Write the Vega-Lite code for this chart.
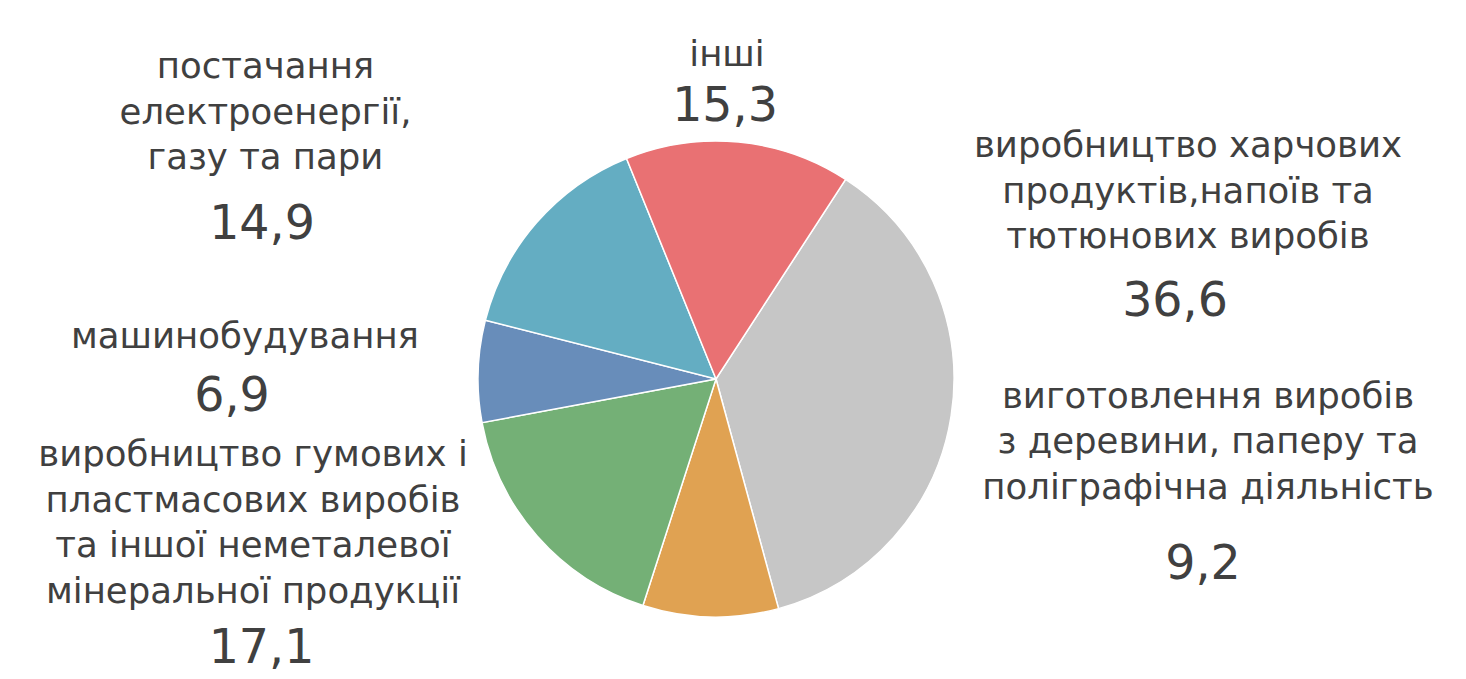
{
  "$schema": "https://vega.github.io/schema/vega-lite/v6.json",
  "width": 1466,
  "height": 679,
  "autosize": {"type": "fit", "contains": "padding"},
  "padding": {"left": 0, "right": 34, "top": 77, "bottom": 0},
  "background": "white",
  "config": {
    "view": {"stroke": null},
    "locale": {"number": {"decimal": ",", "thousands": " ", "grouping": [3], "currency": ["", ""]}}
  },
  "data": {
    "values": [
      {"k": 0, "sector": "виробництво харчових\nпродуктів,напоїв та\nтютюнових виробів", "value": 36.6},
      {"k": 1, "sector": "виготовлення виробів\nз деревини, паперу та\nполіграфічна діяльність", "value": 9.2},
      {"k": 2, "sector": "виробництво гумових і\nпластмасових виробів\nта іншої неметалевої\nмінеральної продукції", "value": 17.1},
      {"k": 3, "sector": "машинобудування", "value": 6.9},
      {"k": 4, "sector": "постачання\nелектроенергії,\nгазу та пари", "value": 14.9},
      {"k": 5, "sector": "інші", "value": 15.3}
    ]
  },
  "layer": [
    {
      "mark": {"type": "arc", "outerRadius": 238, "stroke": "white", "strokeWidth": 1.5},
      "encoding": {
        "theta": {"field": "value", "type": "quantitative", "stack": true, "scale": {"range": [0.576, 6.859]}},
        "order": {"field": "k", "type": "quantitative"},
        "color": {
          "field": "k", "type": "nominal", "legend": null,
          "scale": {"domain": [0, 1, 2, 3, 4, 5], "range": ["#C6C6C6", "#E0A252", "#74B076", "#688DBA", "#64ADC2", "#E97173"]}
        }
      }
    },
    {
      "mark": {
        "type": "text", "font": "DejaVu Sans", "fontSize": 35.5, "color": "#404040",
        "align": "center", "baseline": "alphabetic", "lineBreak": "\n", "lineHeight": 45.5,
        "dx": {"expr": "[472, 492, -463, -471, -450.5, 11][datum.k]"},
        "dy": {"expr": "[-222, 28.7, 87, -31.3, -301, -313][datum.k]"}
      },
      "encoding": {
        "text": {"field": "sector", "type": "nominal"}
      }
    },
    {
      "mark": {
        "type": "text", "font": "DejaVu Sans", "fontSize": 47.5, "color": "#404040",
        "align": "center", "baseline": "alphabetic",
        "dx": {"expr": "[459, 487, -454.5, -484, -454, 9][datum.k]"},
        "dy": {"expr": "[-63, 200, 283.7, 32, -140, -258][datum.k]"}
      },
      "encoding": {
        "text": {"field": "value", "type": "quantitative", "format": ".1f"}
      }
    }
  ]
}
